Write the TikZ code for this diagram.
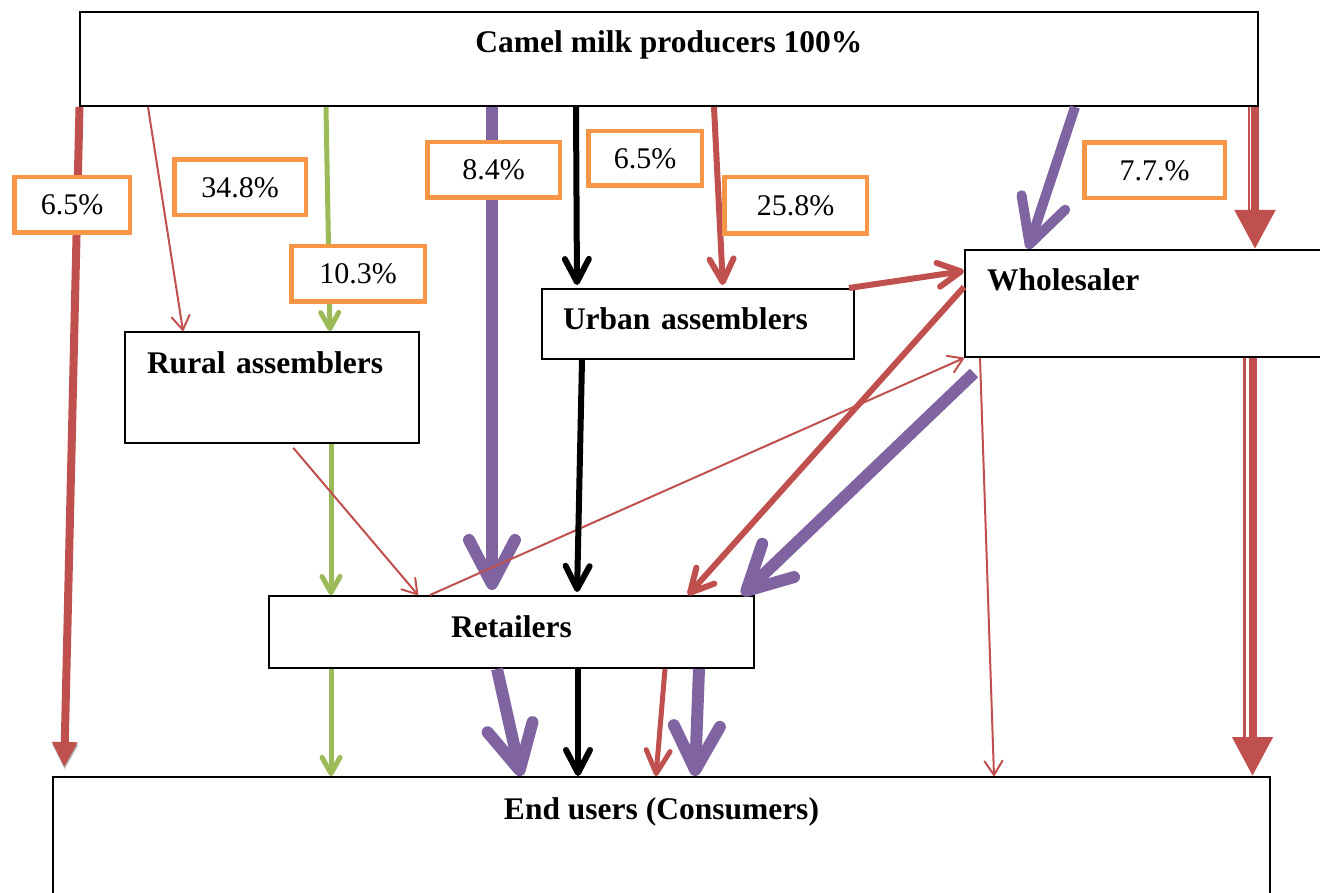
\documentclass[tikz,border=0pt]{standalone}
\usepackage{fontspec}
\setmainfont{Liberation Serif}
\usetikzlibrary{arrows.meta}
\definecolor{cred}{HTML}{C0504D}
\definecolor{cgreen}{HTML}{9BBB59}
\definecolor{cpurple}{HTML}{8064A2}
\definecolor{corange}{HTML}{F79646}
\begin{document}
\begin{tikzpicture}[x=1pt,y=-1pt,
  box/.style={draw, line width=2pt, inner xsep=0pt, inner ysep=0pt, font=\fontsize{31.5}{36}\selectfont\bfseries},
  pct/.style={draw=corange, line width=4.5pt, fill=white, minimum height=55.5pt, inner sep=0pt, font=\fontsize{30}{34}\selectfont},
  thinred/.style={draw=cred, line width=2pt, -{Straight Barb[length=14pt,width=18pt,round]}},
  medred/.style={draw=cred, line width=6pt, -{Straight Barb[length=23pt,width=24pt,round]}},
  medblack/.style={draw=black, line width=6pt, -{Straight Barb[length=23pt,width=24pt,round]}},
  greenarr/.style={draw=cgreen, line width=5pt, -{Straight Barb[length=16pt,width=18pt,round]},
    preaction={draw=black!30, -{Straight Barb[length=16pt,width=18pt,round]}, transform canvas={xshift=0.5pt,yshift=-2.5pt}}},
  purparr/.style={draw=cpurple, line width=12pt, -{Straight Barb[length=44pt,width=46pt,round]}},
  dbl/.style={draw=cred, line width=8pt, -{Triangle[length=39pt,width=39pt]}},
  dblthin/.style={draw=cred, line width=2.5pt},
]
\useasboundingbox (0,0) rectangle (1320,893);
\clip (0,0) rectangle (1320,893);

% boxes
\node[box, minimum width=1178pt, text height=41pt, text depth=53pt] (prod) at (669,59) {Camel milk producers 100\%};
\node[box, text width=250pt, inner xsep=22pt, align=left, text height=41pt, text depth=70pt] (rur) at (272,387.5) {Rural assemblers};
\node[box, text width=270pt, inner xsep=21pt, align=left, text height=41pt, text depth=29pt] (urb) at (698,324) {Urban assemblers};
\node[box, text width=331pt, inner xsep=22pt, align=left, text height=41pt, text depth=66pt] (whl) at (1152.5,303.5) {Wholesaler};
\node[box, minimum width=485pt, text height=41pt, text depth=31pt] (ret) at (511.5,632) {Retailers};
\node[box, minimum width=1217pt, text height=42pt, text depth=114pt] (end) at (661.5,855) {End users (Consumers)};

% producers -> ...
\draw[cred, line width=8pt, -{Triangle[length=25pt,width=24pt]}, shorten >=9pt,
  preaction={draw=black!30, -{Triangle[length=25pt,width=24pt]}, transform canvas={xshift=0.5pt,yshift=-2.5pt}}]
  (79.5,0 |- prod.south) -- (64,0 |- end.north);
\draw[thinred] (148,0 |- prod.south) -- (183,0 |- rur.north);
\draw[greenarr] (326,0 |- prod.south) -- (330,0 |- rur.north);
\draw[purparr, shorten >=5pt] (492,0 |- prod.south) -- (492,0 |- ret.north);
\draw[medblack, shorten >=3pt] (576,0 |- prod.south) -- (577,0 |- urb.north);
\draw[medred, shorten >=3pt] (714,0 |- prod.south) -- (723,0 |- urb.north);
\draw[purparr, line width=10pt] (1075,0 |- prod.south) -- (1028,0 |- whl.north);
\draw[dblthin, shorten >=38pt] (1249,0 |- prod.south) -- (1249,0 |- whl.north);
\draw[dbl] (1255,0 |- prod.south) -- (1255,0 |- whl.north);

% urban / wholesaler links
\draw[medred] ([xshift=-6pt]urb.north east) -- (whl.west |- 0,271);
\draw[medred] (whl.west |- 0,287) -- (688,0 |- ret.north);
\draw[thinred] (430,0 |- ret.north) -- (whl.south west);
\draw[purparr] ([shift={(10pt,-15pt)}]whl.south west) -- (742,0 |- ret.north);
\draw[thinred] (980,0 |- whl.south) -- (994,0 |- end.north);
\draw[dblthin, shorten >=38pt] (1244.5,0 |- whl.south) -- (1244.5,0 |- end.north);
\draw[dbl] (1252.5,0 |- whl.south) -- (1252.5,0 |- end.north);
\draw[medblack, shorten >=3pt] (582,0 |- urb.south) -- (577,0 |- ret.north);

% rural -> retailers
\draw[greenarr] (331,0 |- rur.south) -- (331,0 |- ret.north);
\draw[thinred, shorten <=5pt] (290,0 |- rur.south) -- (418,0 |- ret.north);

% retailers -> end users
\draw[greenarr] (331,0 |- ret.south) -- (331,0 |- end.north);
\draw[purparr] (497,0 |- ret.south) -- (521,0 |- end.north);
\draw[medblack] (578,0 |- ret.south) -- (578,0 |- end.north);
\draw[medred, line width=5pt] (665,0 |- ret.south) -- (656,0 |- end.north);
\draw[purparr] (699,0 |- ret.south) -- (695,0 |- end.north);

% percentage labels
\node[pct, minimum width=115.5pt] (p1) at (72,205) {6.5\%};
\node[pct, minimum width=131.5pt] (p2) at (240,187.5) {34.8\%};
\node[pct, minimum width=133.5pt] (p3) at (358,274) {10.3\%};
\node[pct, minimum width=132.5pt] (p4) at (493.5,170) {8.4\%};
\node[pct, minimum width=113.5pt, minimum height=54.5pt] (p5) at (645,158.5) {6.5\%};
\node[pct, minimum width=142.5pt, minimum height=56.5pt] (p6) at (795.5,205.5) {25.8\%};
\node[pct, minimum width=140.5pt] (p7) at (1154.5,170.5) {7.7.\%};
\end{tikzpicture}
\end{document}
